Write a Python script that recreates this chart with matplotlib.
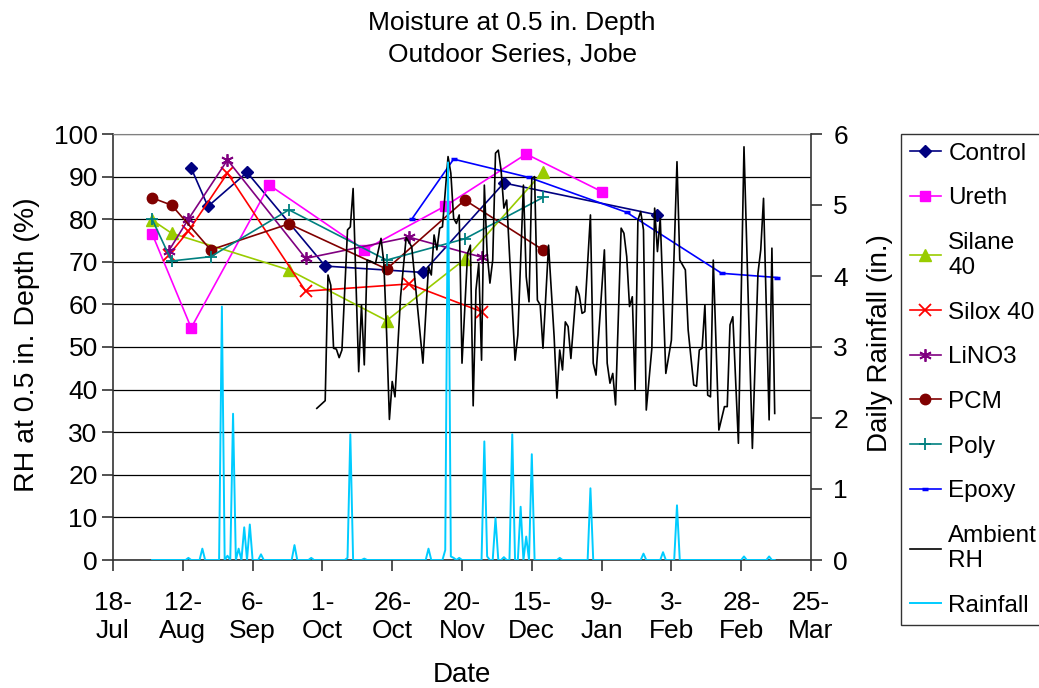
import numpy as np
import matplotlib.pyplot as plt
import matplotlib.dates as mdates

plt.rcParams['font.family'] = ['Liberation Sans', 'DejaVu Sans']

# day offsets from 18-Jul-2005
start = np.datetime64('2005-07-18')

control_day = [28, 34, 48, 76, 111, 140, 195]
control_rh = [92.0, 83.0, 91.0, 69.0, 67.5, 88.5, 81.0]

ureth_day = [14, 28, 56, 90, 119, 148, 175]
ureth_rh = [76.6, 54.5, 88.0, 72.8, 83.1, 95.3, 86.5]

silane_day = [14, 21, 63, 98, 126, 154]
silane_rh = [79.8, 76.7, 68.1, 56.2, 70.6, 91.1]

silox_day = [20, 27, 41, 69, 106, 132]
silox_rh = [71.6, 77.2, 90.8, 63.1, 64.8, 58.3]

lino3_day = [20, 27, 41, 69, 106, 132]
lino3_rh = [72.6, 80.0, 93.9, 70.8, 75.8, 71.1]

pcm_day = [14, 21, 35, 63, 98, 126, 154]
pcm_rh = [85.0, 83.3, 72.8, 78.9, 68.3, 84.5, 72.8]

poly_day = [14, 21, 35, 63, 98, 126, 154]
poly_rh = [80.0, 70.2, 71.2, 82.2, 70.4, 75.4, 85.1]

epoxy_day = [107, 122, 149, 184, 218, 238]
epoxy_rh = [80.0, 94.1, 89.8, 81.6, 67.3, 66.3]

amb_day = [73, 76, 77, 78, 79, 80, 81, 82, 84, 85,
           86, 88, 89, 90, 91, 92, 94, 96, 97, 98,
           99, 100, 101, 103, 105, 107, 111, 113, 114, 115,
           116, 117, 118, 120, 121, 122, 123, 124, 125, 127,
           128, 129, 130, 131, 132, 133, 134, 135, 136, 137,
           138, 139, 140, 141, 144, 145, 147, 148, 149, 150,
           151, 152, 153, 154, 156, 158, 159, 160, 161, 162,
           163, 164, 166, 167, 168, 169, 171, 172, 173, 176,
           177, 178, 179, 180, 182, 183, 184, 185, 186, 187,
           188, 189, 190, 191, 193, 194, 195, 196, 198, 200,
           202, 203, 205, 206, 208, 209, 210, 211, 212, 213,
           214, 215, 217, 219, 220, 221, 222, 224, 226, 229,
           231, 232, 233, 235, 236, 237]
amb_rh = [35.6, 37.4, 66.9, 64.5, 49.7, 49.5, 47.5, 49.3, 77.5, 78.2,
          87.2, 44.2, 59.9, 45.8, 70.4, 70.2, 69.6, 75.5, 69.8, 53.2,
          33.0, 41.9, 38.3, 61.8, 75.7, 73.5, 46.2, 68.9, 66.9, 76.3,
          72.8, 77.9, 78.2, 94.7, 90.8, 80.2, 79.0, 81.0, 46.2, 72.0,
          73.9, 36.2, 63.4, 69.6, 46.9, 88.0, 72.0, 65.0, 70.4, 95.5,
          96.2, 91.5, 82.6, 84.5, 46.9, 52.8, 88.0, 66.5, 60.6, 89.6,
          90.0, 61.0, 59.9, 49.7, 73.9, 52.4, 38.0, 49.3, 44.6, 55.9,
          54.8, 47.3, 64.2, 62.2, 57.9, 58.3, 81.0, 46.2, 43.4, 72.8,
          46.2, 41.5, 43.8, 36.4, 77.9, 76.7, 71.2, 59.5, 61.8, 39.9,
          79.8, 81.8, 77.5, 35.2, 49.7, 82.6, 72.4, 80.2, 43.8, 51.6,
          93.5, 70.4, 68.1, 54.0, 41.1, 40.8, 49.3, 49.7, 59.9, 38.7,
          38.3, 70.4, 30.5, 36.0, 36.0, 55.2, 57.1, 27.4, 97.0, 26.2,
          67.3, 72.8, 84.9, 32.9, 73.2, 34.4]

# daily rainfall record, days 14..237; only rainy days listed
rain_first, rain_last = 14, 237
rain_day = [27, 32, 39, 41, 43, 45, 47, 49, 53, 65,
            71, 84, 85, 90, 113, 119, 120, 121, 122, 124,
            133, 134, 137, 140, 143, 146, 148, 150, 160, 171,
            190, 197, 202, 226, 235]
rain_in = [0.03, 0.16, 3.57, 0.06, 2.06, 0.16, 0.46, 0.50, 0.08, 0.21,
           0.03, 0.03, 1.77, 0.02, 0.16, 0.14, 5.60, 0.05, 0.03, 0.03,
           1.67, 0.05, 0.59, 0.04, 1.77, 0.75, 0.33, 1.49, 0.03, 1.01,
           0.09, 0.11, 0.77, 0.05, 0.05]


def to_dates(days):
    return start + np.array(days).astype('timedelta64[D]')


rain_all_days = np.arange(rain_first, rain_last + 1)
rain_all = np.zeros(len(rain_all_days))
rain_all[np.array(rain_day) - rain_first] = rain_in

fig = plt.figure(figsize=(10.39, 6.88), dpi=100)
ax = fig.add_axes([113 / 1039, 1 - 560 / 688, 698 / 1039, 426 / 688])

series = [
    ('Control', control_day, control_rh, dict(color='#000080', marker='D', ms=6)),
    ('Ureth', ureth_day, ureth_rh, dict(color='#FF00FF', marker='s', ms=7.5)),
    ('Silane\n40', silane_day, silane_rh, dict(color='#99CC00', marker='^', ms=8)),
    ('Silox 40', silox_day, silox_rh, dict(color='#FF0000', marker='x', ms=8, mew=1.3)),
    ('LiNO3', lino3_day, lino3_rh, dict(color='#800080', marker=(6, 2, 0), ms=9, mew=1.3)),
    ('PCM', pcm_day, pcm_rh, dict(color='#800000', marker='o', ms=7.5)),
    ('Poly', poly_day, poly_rh, dict(color='#008080', marker='+', ms=9, mew=1.3)),
    ('Epoxy', epoxy_day, epoxy_rh, dict(color='#0000FF', marker='_', ms=5, mew=2.5)),
]
handles = []
for name, d, v, st in series:
    h, = ax.plot(to_dates(d), v, lw=1.2, label=name, **st)
    handles.append(h)
h, = ax.plot(to_dates(amb_day), amb_rh, color='black', lw=1.2, label='Ambient\nRH')
handles.append(h)

ax.set_ylim(0, 100)
ax.set_yticks(np.arange(0, 101, 10))
ax.set_xlim(start, start + np.timedelta64(250, 'D'))
ax.set_xticks(to_dates(np.arange(0, 251, 25)))
ax.xaxis.set_major_formatter(mdates.DateFormatter('%-d-\n%b'))
for t in ax.get_xticklabels():
    t.set_linespacing(1.25)
ax.yaxis.grid(True, color='black', lw=0.9)
ax.tick_params(axis='both', labelsize=19, direction='out', length=8, width=1.2, color='#333333')
ax.tick_params(axis='x', pad=14)
ax.tick_params(axis='y', pad=3)
for s in ['left', 'bottom']:
    ax.spines[s].set_color('#333333')
    ax.spines[s].set_linewidth(1.2)
ax.spines['top'].set_color('#808080')
ax.spines['right'].set_visible(False)

ax.set_ylabel('RH at 0.5 in. Depth (%)', fontsize=20.5)
ax.yaxis.set_label_coords(-0.105, 0.505)
ax.set_xlabel('Date', fontsize=20)
ax.xaxis.set_label_coords(0.5, -0.24)

ax2 = ax.twinx()
h, = ax2.plot(to_dates(rain_all_days), rain_all, color='#00CCFF', lw=1.4, label='Rainfall')
handles.append(h)
ax2.set_ylim(0, 6)
ax2.set_yticks(np.arange(0, 7, 1))
ax2.tick_params(axis='y', labelsize=19, direction='out', length=8, width=1.2, color='#333333', pad=8)
for s in ['left', 'bottom', 'top']:
    ax2.spines[s].set_visible(False)
ax2.spines['right'].set_color('#333333')
ax2.spines['right'].set_linewidth(1.2)
ax2.set_ylabel('Daily Rainfall (in.)', fontsize=20)
ax2.yaxis.set_label_coords(1.08, 0.51)

fig.text(0.493, 1 - 38.5 / 688, 'Moisture at 0.5 in. Depth\nOutdoor Series, Jobe',
         ha='center', va='center', fontsize=19, linespacing=1.42)

leg = fig.legend(handles=handles, loc='upper left', bbox_to_anchor=(901 / 1039, 1 - 134 / 688),
                 fontsize=17.5, frameon=True, fancybox=False, edgecolor='black',
                 handlelength=1.3, handletextpad=0.3, labelspacing=0.93, borderpad=0.35,
                 borderaxespad=0)
leg.get_frame().set_linewidth(1.0)

fig.savefig('out.png', dpi=100)
